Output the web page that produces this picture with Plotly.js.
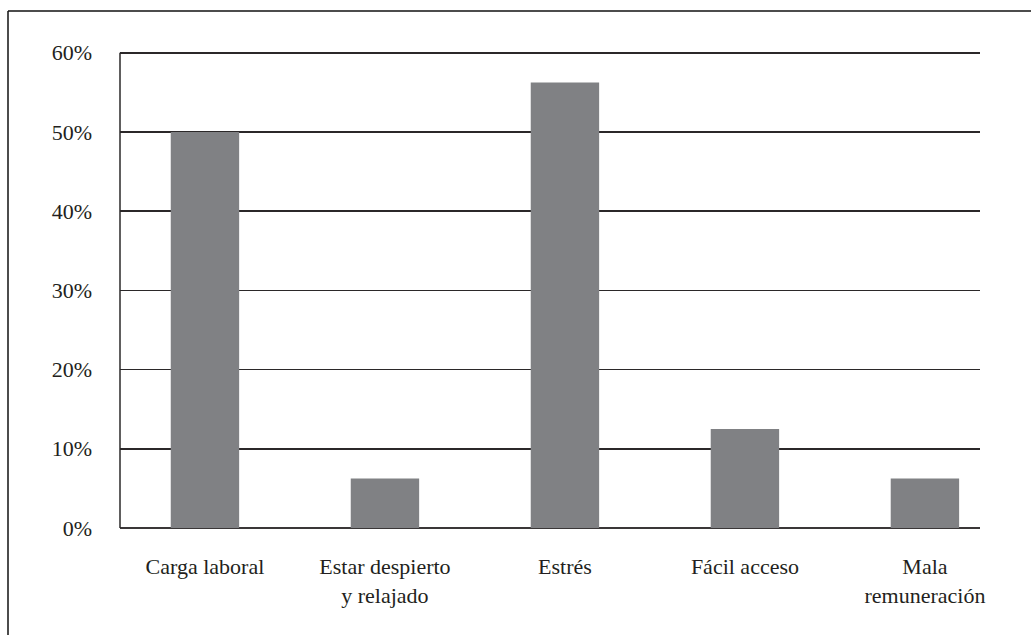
<!DOCTYPE html>
<html>
<head>
<meta charset="utf-8">
<script src="https://cdn.plot.ly/plotly-3.0.1.min.js"></script>
<style>
  html, body { margin: 0; padding: 0; background: #ffffff; }
  #chart { width: 1031px; height: 635px; }
</style>
</head>
<body>
<div id="chart"></div>
<script>
const categories = ["Carga laboral", "Estar despierto<br>y relajado", "Estrés", "Fácil acceso", "Mala<br>remuneración"];
const values = [0.50, 0.0625, 0.5625, 0.125, 0.0625];
const yTicks = [0, 0.1, 0.2, 0.3, 0.4, 0.5, 0.6];

const serif = "Liberation Serif, Times New Roman, serif";

const trace = {
  type: "bar",
  x: categories.map((c, i) => i),
  y: values,
  width: 0.38,
  marker: { color: "#808184", line: { width: 0 } },
  hoverinfo: "skip"
};

// plot area: top 48 .. bottom 528 (480 px); 0.6 sits ~53 px
const layout = {
  width: 1031,
  height: 635,
  margin: { l: 120, r: 51, t: 48, b: 107 },
  paper_bgcolor: "#ffffff",
  plot_bgcolor: "#ffffff",
  showlegend: false,
  font: { family: serif, size: 22, color: "#231f20" },
  xaxis: {
    range: [-0.472, 4.306],
    tickmode: "array",
    tickvals: categories.map((c, i) => i),
    ticktext: categories,
    showgrid: false,
    zeroline: false,
    showline: false,
    ticks: "",
    ticklabelstandoff: 23,
    tickfont: { family: serif, size: 22, color: "#231f20" },
    fixedrange: true
  },
  yaxis: {
    range: [0, 0.606],
    tickmode: "array",
    tickvals: yTicks,
    tickformat: ".0%",
    showgrid: true,
    gridcolor: "#2b2829",
    gridwidth: 1.5,
    zeroline: true,
    zerolinecolor: "#3a3738",
    zerolinewidth: 1.5,
    showline: false,
    ticks: "",
    ticklabelstandoff: 27,
    tickfont: { family: serif, size: 22, color: "#231f20" },
    fixedrange: true
  },
  shapes: [
    // left axis line from 0% to 60%
    { type: "line", xref: "paper", yref: "y",
      x0: 0, x1: 0, y0: 0, y1: 0.6,
      line: { color: "#2b2829", width: 1.5 }, layer: "above" },
    // page frame (top and left edges)
    { type: "line", xref: "paper", yref: "paper",
      x0: (8 - 120) / 860, x1: (1031 - 120) / 860,
      y0: (528 - 11) / 480, y1: (528 - 11) / 480,
      line: { color: "#111111", width: 1.5 } },
    { type: "line", xref: "paper", yref: "paper",
      x0: (8 - 120) / 860, x1: (8 - 120) / 860,
      y0: (528 - 11) / 480, y1: (528 - 640) / 480,
      line: { color: "#111111", width: 1.5 } }
  ]
};

Plotly.newPlot("chart", [trace], layout, { displayModeBar: false, staticPlot: true });
</script>
</body>
</html>
